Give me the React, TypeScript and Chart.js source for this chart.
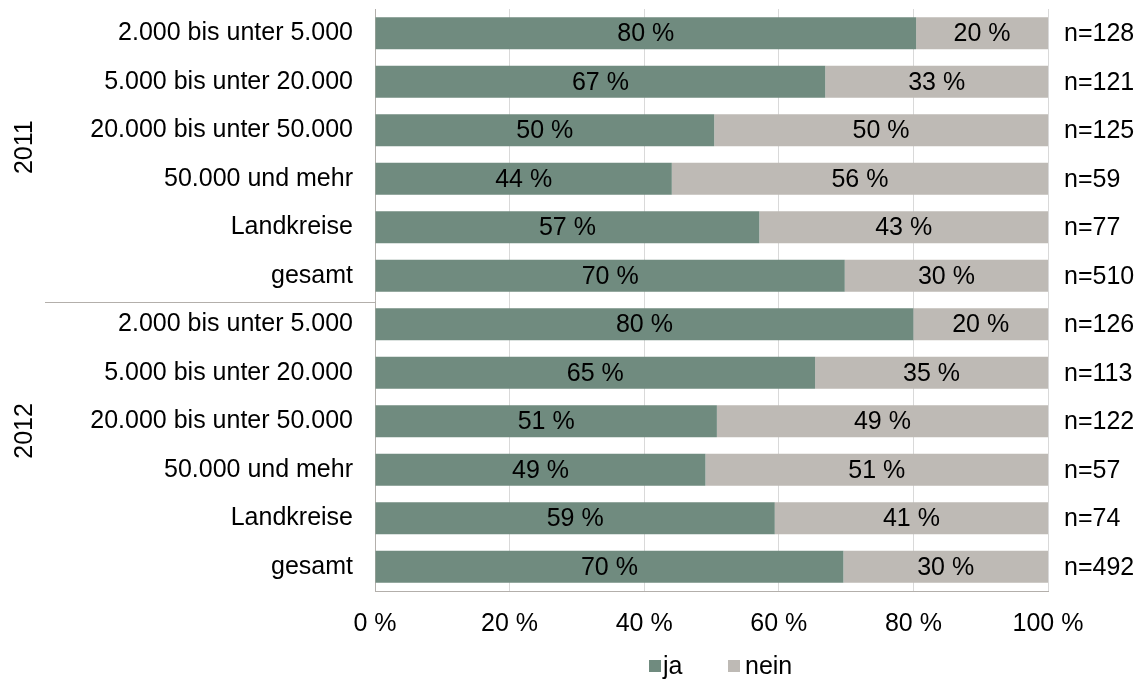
import React, { useEffect, useRef } from "react";
import { Chart, registerables } from "chart.js";

Chart.register(...registerables);

const categories = [
  "2.000 bis unter 5.000",
  "5.000 bis unter 20.000",
  "20.000 bis unter 50.000",
  "50.000 und mehr",
  "Landkreise",
  "gesamt",
  "2.000 bis unter 5.000",
  "5.000 bis unter 20.000",
  "20.000 bis unter 50.000",
  "50.000 und mehr",
  "Landkreise",
  "gesamt",
];
const jaValues = [80.4, 66.9, 50.4, 44.1, 57.1, 69.8, 80.0, 65.4, 50.8, 49.1, 59.4, 69.6];
const neinValues = [19.6, 33.1, 49.6, 55.9, 42.9, 30.2, 20.0, 34.6, 49.2, 50.9, 40.6, 30.4];
const nLabels = ["n=128", "n=121", "n=125", "n=59", "n=77", "n=510", "n=126", "n=113", "n=122", "n=57", "n=74", "n=492"];
const years = ["2011", "2012"];
const xTicks = [0, 20, 40, 60, 80, 100];
const seriesNames = ["ja", "nein"];
const seriesColors = ["#708b7f", "#bebab5"];

const FONT = "'Liberation Sans', Arial, sans-serif";

const overlayPlugin = {
  id: "overlay",
  afterDatasetsDraw(chart: any) {
    const ctx = chart.ctx;
    const yScale = chart.scales.y;
    const area = chart.chartArea;
    ctx.save();
    ctx.font = `25px ${FONT}`;
    ctx.fillStyle = "#000";
    ctx.textBaseline = "middle";
    // data labels
    chart.data.datasets.forEach((ds: any, di: number) => {
      const meta = chart.getDatasetMeta(di);
      meta.data.forEach((bar: any, i: number) => {
        const v = ds.data[i];
        const left = Math.min(bar.x, bar.base);
        const right = Math.max(bar.x, bar.base);
        ctx.textAlign = "center";
        ctx.fillText(`${Math.round(v)} %`, (left + right) / 2, bar.y + 1);
      });
    });
    // n labels
    ctx.textAlign = "left";
    nLabels.forEach((t, i) => {
      ctx.fillText(t, area.right + 16, yScale.getPixelForValue(i) + 1);
    });
    // separator line
    const sepY = Math.round(yScale.getPixelForValue(5.5)) + 2.5;
    ctx.strokeStyle = "#b3afab";
    ctx.lineWidth = 1;
    ctx.beginPath();
    ctx.moveTo(45, sepY);
    ctx.lineTo(area.left, sepY);
    ctx.stroke();
    // year labels
    const yearPos = [2.35, 8.2];
    years.forEach((yr, k) => {
      const cy = yScale.getPixelForValue(yearPos[k]);
      ctx.save();
      ctx.translate(24, cy);
      ctx.rotate(-Math.PI / 2);
      ctx.textAlign = "center";
      ctx.textBaseline = "middle";
      ctx.fillText(yr, 0, 1);
      ctx.restore();
    });
    // legend
    const ly = 666;
    const items = [
      { x: 649, tx: 663 },
      { x: 728, tx: 745 },
    ];
    seriesNames.forEach((name, k) => {
      ctx.fillStyle = seriesColors[k];
      ctx.fillRect(items[k].x, ly - 6, 12, 12);
      ctx.fillStyle = "#000";
      ctx.textAlign = "left";
      ctx.fillText(name, items[k].tx, ly + 1);
    });
    ctx.restore();
  },
};

export default function App() {
  const ref = useRef<HTMLCanvasElement>(null);
  useEffect(() => {
    if (!ref.current) return;
    const chart = new Chart(ref.current, {
      type: "bar",
      data: {
        labels: categories,
        datasets: [
          { label: seriesNames[0], data: jaValues, backgroundColor: seriesColors[0], barPercentage: 0.66, categoryPercentage: 1 },
          { label: seriesNames[1], data: neinValues, backgroundColor: seriesColors[1], barPercentage: 0.66, categoryPercentage: 1 },
        ],
      },
      options: {
        indexAxis: "y",
        animation: false,
        responsive: false,
        maintainAspectRatio: false,
        layout: { padding: { top: 9, right: 95, bottom: 0, left: 0 } },
        plugins: { legend: { display: false }, tooltip: { enabled: false } },
        scales: {
          x: {
            stacked: true,
            min: 0,
            max: 100,
            afterBuildTicks: (s: any) => {
              s.ticks = xTicks.map((v) => ({ value: v }));
            },
            afterFit: (s: any) => {
              s.height = 89;
              s.paddingLeft = 0;
              s.paddingRight = 0;
            },
            grid: { color: "#d9d9d9", drawTicks: false },
            border: { color: "#b3afab" },
            ticks: {
              padding: 18,
              color: "#000",
              font: { family: FONT, size: 25 },
              callback: (v: any) => `${v} %`,
              maxRotation: 0,
            },
          },
          y: {
            stacked: true,
            afterFit: (s: any) => {
              s.width = 375;
              s.paddingTop = 0;
              s.paddingBottom = 0;
            },
            grid: { display: false, drawTicks: false },
            border: { color: "#b3afab" },
            ticks: {
              padding: 22,
              color: "#000",
              font: { family: FONT, size: 25 },
              autoSkip: false,
            },
          },
        },
      },
      plugins: [overlayPlugin],
    });
    return () => chart.destroy();
  }, []);
  return (
    <div style={{ position: "fixed", left: 0, top: 0, width: 1143, height: 680, background: "#fff" }}>
      <canvas ref={ref} width={1143} height={680} style={{ width: 1143, height: 680 }} />
    </div>
  );
}
